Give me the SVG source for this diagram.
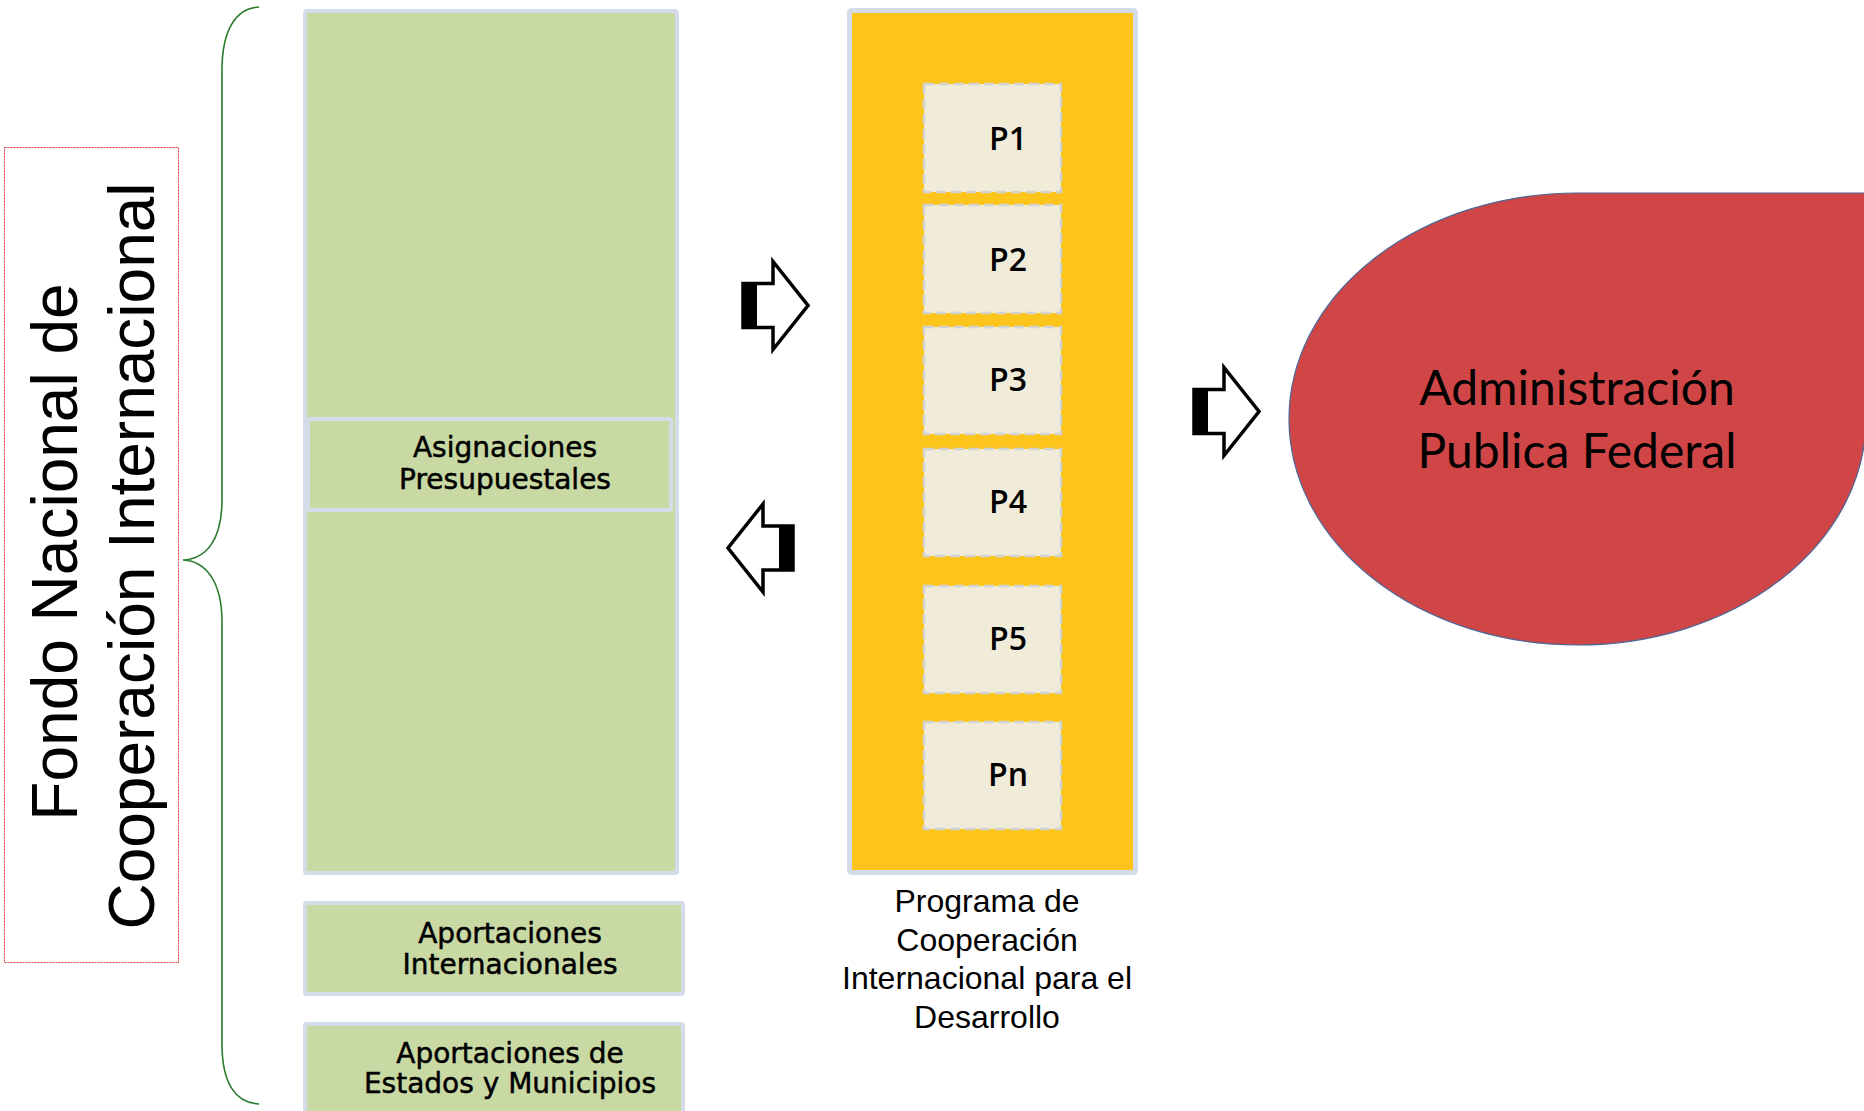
<svg xmlns="http://www.w3.org/2000/svg" width="1864" height="1111" viewBox="0 0 1864 1111">
<style>
.green{fill:#c9d9a4;stroke:#d4dbe9;stroke-width:4}
.yellow{fill:#fdc41c;stroke:#d4dbe9;stroke-width:5}
.pbox{fill:#f1ebd9;stroke:#d2d2d0;stroke-width:2.5;stroke-dasharray:10 5}
.ptxt{font-family:"Open Sans","Noto Sans",sans-serif;font-weight:600;font-size:32px;fill:#000;text-anchor:middle}
.gtxt{font-family:"DejaVu Sans",sans-serif;font-size:28px;fill:#000;stroke:#000;stroke-width:0.5;text-anchor:middle}
.cap{font-family:"Liberation Sans",Arial,sans-serif;font-size:32px;fill:#000;text-anchor:middle}
.title{font-family:"Liberation Sans",Arial,sans-serif;font-size:64px;fill:#000;text-anchor:middle}
.apf{font-family:Lato,"Open Sans",sans-serif;font-size:48px;fill:#000;text-anchor:middle}
.arrow{fill:#fff;stroke:#000;stroke-width:3.5;stroke-linejoin:miter}
</style>
<defs>
<g id="rarrow">
<polygon class="arrow" points="0,-22 30,-22 30,-44 65,0 30,44 30,22 0,22"/>
<rect x="0" y="-22" width="14" height="44" fill="#000"/>
</g>
</defs>
<rect width="1864" height="1111" fill="#fff"/>

<g id="fondo-title">
<rect x="4.5" y="147.5" width="174" height="815" fill="none" stroke="#e03838" stroke-width="1" stroke-dasharray="2 1"/>
<text class="title" transform="translate(77,552) rotate(-90)">Fondo Nacional de</text>
<text class="title" transform="translate(154,556) rotate(-90)">Cooperación Internacional</text>
</g>

<g id="brace">
<path d="M259,7 C236,8 222,30 222,70 L222,500 C222,540 206,559 183,560 C206,561 222,582 222,622 L222,1044 C222,1084 236,1103 259,1104" fill="none" stroke="#2a7a2a" stroke-width="1.6"/>
</g>

<g id="fuentes">
<rect class="green" x="305" y="11" width="372" height="862" rx="2"/>
</g>
<g id="asignaciones">
<rect class="green" x="308" y="419" width="363" height="91" rx="2"/>
<text class="gtxt" x="505" y="457">Asignaciones</text>
<text class="gtxt" x="505" y="489">Presupuestales</text>
</g>
<g id="aportaciones-internacionales">
<rect class="green" x="305" y="903" width="378" height="91" rx="2"/>
<text class="gtxt" x="510" y="943">Aportaciones</text>
<text class="gtxt" x="510" y="974">Internacionales</text>
</g>
<g id="aportaciones-estados">
<rect class="green" x="305" y="1024" width="378" height="120" rx="2"/>
<text class="gtxt" x="510" y="1063">Aportaciones de</text>
<text class="gtxt" x="510" y="1093">Estados y Municipios</text>
</g>

<g id="programa">
<rect class="yellow" x="849.5" y="10.5" width="286" height="862" rx="2"/>
<text class="cap" x="987" y="912">Programa de</text>
<text class="cap" x="987" y="951">Cooperación</text>
<text class="cap" x="987" y="989">Internacional para el</text>
<text class="cap" x="987" y="1028">Desarrollo</text>
</g>
<g id="p1"><rect class="pbox" x="924" y="84" width="137" height="108"/><text class="ptxt" x="1008" y="150">P1</text></g>
<g id="p2"><rect class="pbox" x="924" y="205" width="137" height="108"/><text class="ptxt" x="1008" y="271">P2</text></g>
<g id="p3"><rect class="pbox" x="924" y="327" width="137" height="107"/><text class="ptxt" x="1008" y="391">P3</text></g>
<g id="p4"><rect class="pbox" x="924" y="449" width="137" height="107"/><text class="ptxt" x="1008" y="513">P4</text></g>
<g id="p5"><rect class="pbox" x="924" y="586" width="137" height="107"/><text class="ptxt" x="1008" y="650">P5</text></g>
<g id="pn"><rect class="pbox" x="924" y="722" width="137" height="107"/><text class="ptxt" x="1008" y="786">Pn</text></g>

<g id="apf">
<path d="M1289,419 A288,226 0 0 1 1577,193 L1866,193 L1866,419 A288,226 0 0 1 1577,645 A288,226 0 0 1 1289,419 Z" fill="#d04647" stroke="#4a6796" stroke-width="1.2"/>
<text class="apf" x="1577" y="405">Administración</text>
<text class="apf" x="1577" y="468">Publica Federal</text>
</g>

<g id="connectors">
<use href="#rarrow" transform="translate(743,305.5)"/>
<use href="#rarrow" transform="translate(793,548) scale(-1,1)"/>
<use href="#rarrow" transform="translate(1194,411.5)"/>
</g>
</svg>
